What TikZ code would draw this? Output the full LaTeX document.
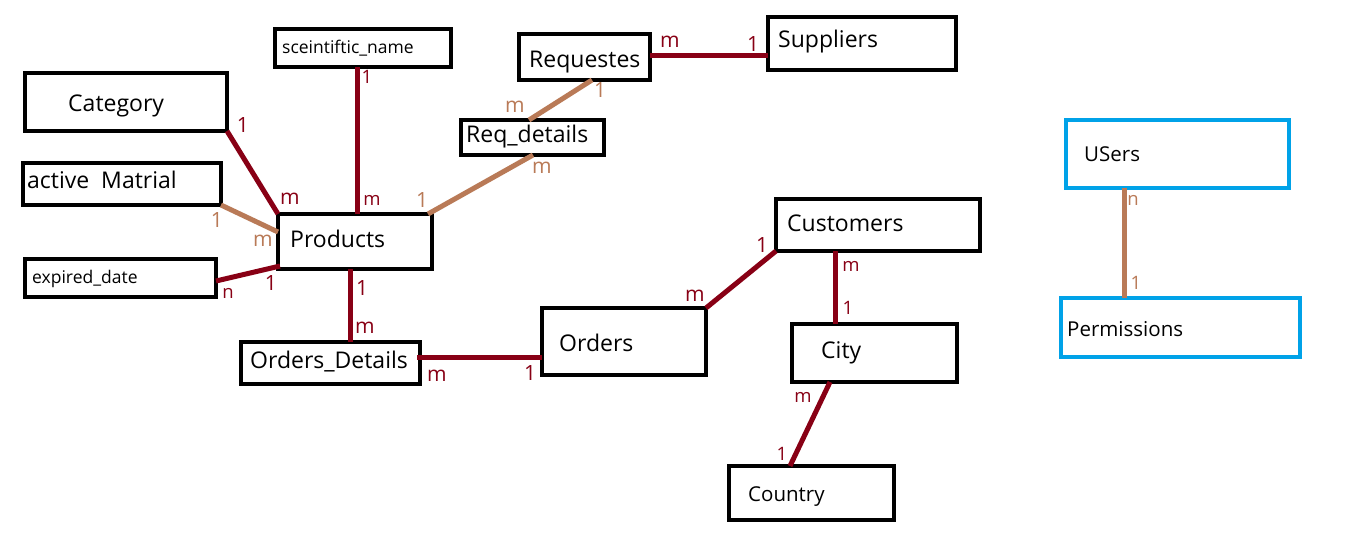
\documentclass[tikz,border=0pt]{standalone}
\usepackage{fontspec}
\setmainfont{Open Sans}
\definecolor{pdred}{HTML}{880015}
\definecolor{ptan}{HTML}{B97A57}
\definecolor{pblue}{HTML}{00A2E8}
\tikzset{
  box/.style={draw=black, line width=4.5pt, inner sep=0pt, outer sep=0pt, anchor=north west},
  bbox/.style={draw=pblue, line width=4.5pt, inner sep=0pt, outer sep=0pt, anchor=north west},
  rel/.style={draw=pdred, line width=5pt},
  trel/.style={draw=ptan, line width=5pt},
  big/.style={font=\fontsize{23}{26}\selectfont, anchor=base west, inner sep=0pt},
  small/.style={font=\fontsize{17.5}{20}\selectfont, anchor=base west, inner sep=0pt},
  mid/.style={font=\fontsize{20.5}{23}\selectfont, anchor=base west, inner sep=0pt},
  lab/.style={font=\fontsize{21}{24}\selectfont, text=pdred, inner sep=0pt},
  slab/.style={font=\fontsize{18.5}{21}\selectfont, text=pdred, inner sep=0pt},
  tlab/.style={font=\fontsize{21}{24}\selectfont, text=ptan, inner sep=0pt},
  stlab/.style={font=\fontsize{18.5}{21}\selectfont, text=ptan, inner sep=0pt}
}
\begin{document}
\begin{tikzpicture}[x=1pt,y=-1pt]
\useasboundingbox[fill=white] (0,0) rectangle (1360,555);
% boxes
\node[box, minimum width=176pt, minimum height=38pt] (sci) at (275,29) {};
\node[box, minimum width=202pt, minimum height=58pt] (cat) at (25,73) {};
\node[box, minimum width=198pt, minimum height=42pt] (act) at (23,163) {};
\node[box, minimum width=154pt, minimum height=55pt] (prod) at (278,214) {};
\node[box, minimum width=191pt, minimum height=38pt] (exp) at (25,259) {};
\node[box, minimum width=179pt, minimum height=42pt] (od) at (241,342) {};
\node[box, minimum width=131pt, minimum height=46pt] (req) at (519,34) {};
\node[box, minimum width=188pt, minimum height=53pt] (sup) at (768,17) {};
\node[box, minimum width=143pt, minimum height=35pt] (rd) at (461,120) {};
\node[box, minimum width=204pt, minimum height=52pt] (cus) at (776,199) {};
\node[box, minimum width=164pt, minimum height=67pt] (ord) at (542,308) {};
\node[box, minimum width=165pt, minimum height=58pt] (city) at (792,324) {};
\node[box, minimum width=165pt, minimum height=54pt] (cty) at (729,466) {};
\node[bbox, minimum width=223pt, minimum height=68pt] (usr) at (1066,120) {};
\node[bbox, minimum width=239pt, minimum height=59pt] (perm) at (1061,298) {};
% texts
\node[small] (tsci) at (282,53) {sceintiftic\_name};
\node[big] (tcat) at (68,111) {Category};
\node[big] (tact) at (27,188) {active~~Matrial};
\node[big] (tprod) at (290,247) {Products};
\node[small] (texp) at (32,283) {expired\_date};
\node[big] (tod) at (250,368) {Orders\_Details};
\node[big] (treq) at (529,67) {Requestes};
\node[big] (tsup) at (778,47) {Suppliers};
\node[big] (trd) at (466,142) {Req\_details};
\node[big] (tcus) at (787,231) {Customers};
\node[big] (tord) at (559,351) {Orders};
\node[big] (tcity) at (821,358) {City};
\node[mid] (tcty) at (748,501) {Country};
\node[mid] (tusr) at (1084,161) {USers};
\node[mid] (tperm) at (1067,336) {Permissions};
% connectors
\draw[rel] (cat.south east) -- (prod.north west);
\draw[rel] ([xshift=82pt]sci.south west) -- ([xshift=79pt]prod.north west);
\draw[trel] (act.south east) -- ([yshift=-18pt]prod.north west);
\draw[rel] ([yshift=-22pt]exp.north east) -- ([xshift=2pt,yshift=3pt]prod.south west);
\draw[rel] ([xshift=72pt]prod.south west) -- ([xshift=109pt]od.north west);
\draw[rel] ([yshift=-15pt,xshift=-3pt]od.north east) -- ([yshift=-49pt]ord.north west);
\draw[rel] (ord.north east) -- (cus.south west);
\draw[rel] ([xshift=59pt]cus.south west) -- ([xshift=43pt]city.north west);
\draw[rel] ([xshift=38pt]city.south west) -- ([xshift=61pt]cty.north west);
\draw[trel] ([xshift=-4pt]prod.north east) -- ([xshift=72pt]rd.south west);
\draw[trel] ([xshift=68pt]rd.north west) -- ([xshift=73pt]req.south west);
\draw[rel] ([yshift=-21pt]req.north east) -- ([yshift=-38pt]sup.north west);
\draw[trel] ([xshift=58pt]usr.south west) -- ([xshift=63pt]perm.north west);
% labels
\node[lab] (l1) at (243,125) {1};
\node[lab] (l2) at (290,199) {m};
\node[slab] (l3) at (367,77) {1};
\node[slab] (l4) at (372,200) {m};
\node[tlab] (l5) at (217,220) {1};
\node[tlab] (l6) at (263,241) {m};
\node[slab] (l7) at (228,293) {n};
\node[lab] (l8) at (271,283) {1};
\node[lab] (l9) at (362,288) {1};
\node[lab] (l10) at (365,328) {m};
\node[lab] (l11) at (437,376) {m};
\node[lab] (l12) at (530,373) {1};
\node[lab] (l13) at (695,296) {m};
\node[lab] (l14) at (762,245) {1};
\node[slab] (l15) at (851,266) {m};
\node[slab] (l16) at (848,308) {1};
\node[slab] (l17) at (803,397) {m};
\node[slab] (l18) at (782,454) {1};
\node[tlab] (l19) at (422,200) {1};
\node[tlab] (l20) at (542,168) {m};
\node[tlab] (l21) at (515,107) {m};
\node[tlab] (l22) at (600,90) {1};
\node[lab] (l23) at (670,42) {m};
\node[lab] (l24) at (753,44) {1};
\node[stlab] (l25) at (1133,200) {n};
\node[stlab] (l26) at (1136,283) {1};
\end{tikzpicture}
\end{document}
